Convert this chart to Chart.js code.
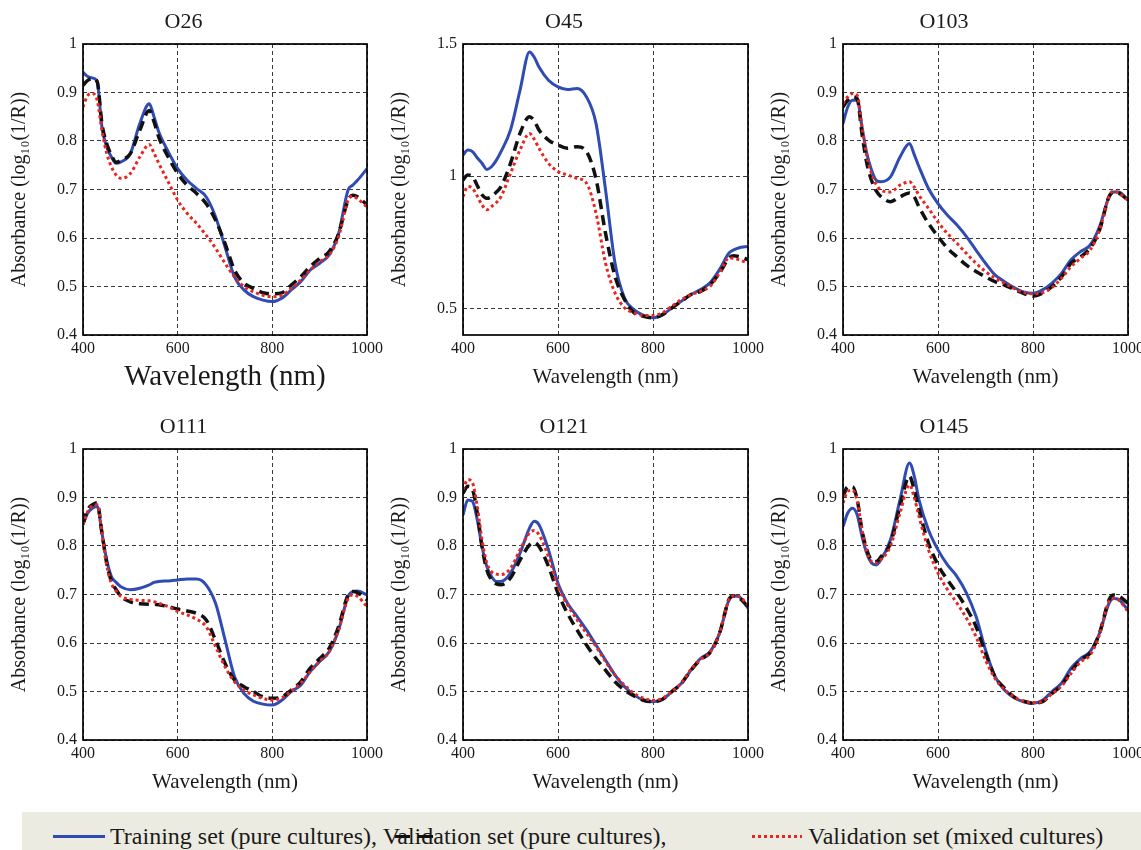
<!DOCTYPE html>
<html>
<head>
<meta charset="utf-8">
<script src="https://cdn.jsdelivr.net/npm/chart.js@4.4.0/dist/chart.umd.min.js"></script>
<style>
  body { margin: 0; background: #fff; width: 1141px; height: 850px; position: relative; overflow: hidden; font-family: 'Liberation Serif', serif; }
  canvas { position: absolute; }
  #legend { position: absolute; left: 22px; top: 812px; width: 1119px; height: 38px; background: #ecebe1; }
  .txt { position: absolute; top: 12px; font-size: 24px; line-height: 24px; color: #1a1a1a; white-space: nowrap; }
  .swatch { position: absolute; height: 3px; }
</style>
</head>
<body>
<canvas id="p0" width="400" height="400" style="left:0;top:0"></canvas>
<canvas id="p1" width="400" height="400" style="left:380px;top:0"></canvas>
<canvas id="p2" width="381" height="400" style="left:760px;top:0"></canvas>
<canvas id="p3" width="400" height="400" style="left:0;top:405px"></canvas>
<canvas id="p4" width="400" height="400" style="left:380px;top:405px"></canvas>
<canvas id="p5" width="381" height="400" style="left:760px;top:405px"></canvas>

<div id="legend">
  <div class="swatch" style="left:31px;top:23px;width:52px;background:#2f4bb4"></div>
  <span class="txt" style="left:88px">Training set (pure cultures), Validation set (pure cultures),</span>
  <div class="swatch" style="left:373px;top:23px;width:40px;background:repeating-linear-gradient(to right,#111 0 15px,transparent 15px 23px)"></div>
  <div class="swatch" style="left:730px;top:23px;width:50px;background:repeating-linear-gradient(to right,#e8261e 0 3px,transparent 3px 6px)"></div>
  <span class="txt" style="left:786px">Validation set (mixed cultures)</span>
</div>

<script>
// wavelength grid (nm)
const wavelengths = [400,410,420,430,440,450,460,470,480,500,520,540,550,560,580,600,620,640,660,680,700,720,740,760,780,800,820,840,860,880,900,920,940,960,970,980,1000];
const xTicks = [400, 600, 800, 1000];
const yTicks = [0.4, 0.5, 0.6, 0.7, 0.8, 0.9, 1];
const yTicksO45 = [0.5, 1, 1.5];
const panelNames = ['O26', 'O45', 'O103', 'O111', 'O121', 'O145'];
const seriesNames = ['Training set (pure cultures)', 'Validation set (pure cultures)', 'Validation set (mixed cultures)'];

const o26Train = [0.942,0.933,0.930,0.922,0.829,0.788,0.767,0.754,0.757,0.774,0.836,0.877,0.850,0.819,0.778,0.743,0.719,0.702,0.685,0.644,0.582,0.520,0.493,0.479,0.472,0.469,0.476,0.493,0.510,0.534,0.548,0.565,0.609,0.699,0.709,0.719,0.743];
const o26ValPure = [0.915,0.925,0.929,0.922,0.836,0.795,0.771,0.756,0.760,0.774,0.822,0.863,0.840,0.808,0.767,0.733,0.709,0.692,0.671,0.637,0.589,0.534,0.507,0.496,0.487,0.485,0.487,0.503,0.520,0.541,0.558,0.572,0.609,0.678,0.688,0.685,0.668];
const o26ValMixed = [0.870,0.894,0.898,0.884,0.822,0.775,0.747,0.730,0.723,0.733,0.767,0.793,0.775,0.754,0.716,0.678,0.651,0.630,0.606,0.579,0.548,0.520,0.500,0.489,0.482,0.479,0.482,0.496,0.513,0.534,0.551,0.565,0.603,0.678,0.686,0.681,0.664];

const o45Train = [1.080,1.099,1.093,1.070,1.049,1.026,1.036,1.060,1.093,1.175,1.325,1.470,1.450,1.413,1.363,1.338,1.328,1.332,1.300,1.200,0.950,0.672,0.540,0.496,0.474,0.465,0.477,0.503,0.528,0.553,0.572,0.597,0.647,0.710,0.722,0.729,0.735];
const o45ValPure = [0.986,1.005,0.999,0.965,0.930,0.917,0.923,0.940,0.961,1.049,1.162,1.225,1.210,1.175,1.137,1.118,1.106,1.112,1.093,0.990,0.785,0.622,0.534,0.484,0.471,0.465,0.477,0.503,0.528,0.553,0.565,0.590,0.634,0.691,0.700,0.697,0.685];
const o45ValMixed = [0.923,0.961,0.955,0.925,0.892,0.873,0.886,0.900,0.923,1.011,1.099,1.162,1.140,1.106,1.049,1.018,1.005,0.992,0.974,0.861,0.672,0.559,0.503,0.484,0.474,0.474,0.484,0.509,0.534,0.553,0.565,0.584,0.634,0.691,0.690,0.685,0.672];

const o103Train = [0.836,0.870,0.884,0.884,0.829,0.775,0.740,0.719,0.716,0.726,0.767,0.795,0.772,0.747,0.702,0.671,0.647,0.627,0.603,0.575,0.548,0.524,0.510,0.498,0.489,0.486,0.493,0.507,0.527,0.555,0.572,0.585,0.623,0.685,0.695,0.695,0.678];
const o103ValPure = [0.870,0.884,0.891,0.887,0.815,0.755,0.719,0.697,0.685,0.675,0.685,0.693,0.685,0.664,0.630,0.603,0.579,0.561,0.544,0.531,0.520,0.510,0.503,0.494,0.486,0.480,0.486,0.500,0.520,0.548,0.561,0.579,0.616,0.685,0.695,0.693,0.678];
const o103ValMixed = [0.877,0.891,0.898,0.894,0.829,0.770,0.733,0.710,0.699,0.695,0.709,0.716,0.705,0.688,0.661,0.633,0.609,0.589,0.568,0.548,0.531,0.517,0.507,0.496,0.488,0.485,0.487,0.498,0.517,0.541,0.558,0.575,0.616,0.685,0.697,0.693,0.678];

const o111Train = [0.844,0.868,0.878,0.882,0.827,0.772,0.737,0.725,0.716,0.710,0.713,0.720,0.725,0.727,0.728,0.730,0.732,0.732,0.720,0.682,0.607,0.531,0.496,0.480,0.474,0.472,0.482,0.500,0.513,0.541,0.562,0.582,0.627,0.696,0.706,0.707,0.699];
const o111ValPure = [0.847,0.875,0.885,0.889,0.827,0.765,0.727,0.710,0.696,0.685,0.681,0.680,0.680,0.679,0.675,0.670,0.666,0.661,0.648,0.606,0.558,0.524,0.510,0.500,0.489,0.486,0.489,0.503,0.520,0.548,0.568,0.589,0.634,0.699,0.706,0.704,0.689];
const o111ValMixed = [0.844,0.871,0.883,0.885,0.827,0.761,0.723,0.707,0.696,0.690,0.688,0.687,0.685,0.682,0.675,0.665,0.658,0.649,0.634,0.593,0.551,0.520,0.503,0.493,0.486,0.482,0.487,0.501,0.517,0.541,0.562,0.582,0.627,0.692,0.699,0.696,0.675];

const o121Train = [0.864,0.895,0.892,0.854,0.799,0.758,0.737,0.727,0.727,0.744,0.785,0.837,0.851,0.844,0.792,0.723,0.682,0.655,0.627,0.596,0.565,0.534,0.510,0.493,0.482,0.479,0.484,0.500,0.517,0.544,0.568,0.582,0.620,0.689,0.697,0.696,0.672];
const o121ValPure = [0.909,0.923,0.916,0.868,0.799,0.751,0.730,0.722,0.720,0.734,0.771,0.802,0.807,0.799,0.758,0.703,0.661,0.627,0.596,0.568,0.544,0.520,0.503,0.491,0.482,0.479,0.484,0.500,0.517,0.544,0.566,0.580,0.620,0.690,0.697,0.694,0.675];
const o121ValMixed = [0.916,0.937,0.930,0.882,0.813,0.765,0.747,0.742,0.741,0.754,0.792,0.827,0.832,0.823,0.778,0.716,0.679,0.648,0.620,0.593,0.562,0.534,0.513,0.496,0.486,0.482,0.486,0.500,0.518,0.546,0.566,0.580,0.620,0.690,0.697,0.696,0.679];

const o145Train = [0.840,0.868,0.878,0.864,0.820,0.785,0.765,0.761,0.772,0.813,0.895,0.971,0.944,0.895,0.833,0.792,0.761,0.737,0.703,0.655,0.586,0.531,0.503,0.487,0.479,0.476,0.482,0.500,0.517,0.548,0.568,0.582,0.620,0.682,0.692,0.690,0.668];
const o145ValPure = [0.902,0.922,0.922,0.895,0.833,0.792,0.771,0.768,0.778,0.806,0.882,0.944,0.915,0.875,0.806,0.761,0.730,0.703,0.672,0.634,0.579,0.531,0.507,0.489,0.480,0.476,0.479,0.496,0.513,0.541,0.565,0.579,0.620,0.689,0.699,0.697,0.682];
const o145ValMixed = [0.889,0.913,0.915,0.892,0.833,0.789,0.768,0.765,0.772,0.800,0.868,0.926,0.900,0.861,0.792,0.744,0.710,0.682,0.651,0.613,0.565,0.527,0.504,0.489,0.480,0.477,0.480,0.495,0.511,0.537,0.561,0.575,0.617,0.686,0.692,0.689,0.665];

const panelSeries = [
  [o26Train, o26ValPure, o26ValMixed],
  [o45Train, o45ValPure, o45ValMixed],
  [o103Train, o103ValPure, o103ValMixed],
  [o111Train, o111ValPure, o111ValMixed],
  [o121Train, o121ValPure, o121ValMixed],
  [o145Train, o145ValPure, o145ValMixed],
];

Chart.defaults.font.family = "'Liberation Serif', 'Times New Roman', serif";
Chart.defaults.color = '#1a1a1a';

const lineStyles = [
  { borderColor: '#2f4bb4', borderWidth: 3, borderDash: [], order: 3 },
  { borderColor: '#111111', borderWidth: 3.5, borderDash: [10, 6], order: 2 },
  { borderColor: '#e8261e', borderWidth: 3, borderDash: [3, 3], order: 1 },
];

// solid box round the plot area
const frame = {
  id: 'frame',
  afterDatasetsDraw(chart) {
    const { ctx, chartArea: a } = chart;
    ctx.save();
    ctx.strokeStyle = '#000';
    ctx.lineWidth = 1.7;
    ctx.strokeRect(a.left, a.top, a.right - a.left, a.bottom - a.top);
    ctx.restore();
  }
};

function makePanel(i) {
  const isO45 = panelNames[i] === 'O45';
  const ticksY = isO45 ? yTicksO45 : yTicks;
  const col = i % 3;
  const xTitleSize = i === 0 ? 29 : 21;
  // right edge of plot: 367 / 368 / 368 inside each canvas
  const padRight = col === 0 ? 33 : (col === 1 ? 32 : 13);

  const datasets = panelSeries[i].map((vals, k) => ({
    label: seriesNames[k],
    data: wavelengths.map((w, j) => ({ x: w, y: vals[j] })),
    borderColor: lineStyles[k].borderColor,
    borderWidth: lineStyles[k].borderWidth,
    borderDash: lineStyles[k].borderDash,
    order: lineStyles[k].order,
    pointRadius: 0,
    fill: false,
    cubicInterpolationMode: 'monotone',
  }));

  new Chart(document.getElementById('p' + i), {
    type: 'line',
    data: { datasets },
    plugins: [frame],
    options: {
      responsive: false,
      animation: false,
      layout: { padding: { left: 0, right: padRight, top: 0, bottom: 0 } },
      plugins: {
        legend: { display: false },
        tooltip: { enabled: false },
        title: {
          display: true,
          text: panelNames[i],
          font: { size: 22, weight: 'normal' },
          padding: { top: 9, bottom: 8.6 },
        },
      },
      scales: {
        x: {
          type: 'linear',
          min: 400,
          max: 1000,
          afterBuildTicks: s => { s.ticks = xTicks.map(v => ({ value: v })); },
          afterFit: s => { s.height = 65; s.paddingLeft = 0; s.paddingRight = 0; },
          ticks: { font: { size: 16 }, padding: 4, maxRotation: 0, callback: v => String(v) },
          grid: { color: '#222', lineWidth: 0.9, drawTicks: false },
          border: { display: false, dash: [4, 3] },
          title: {
            display: true,
            text: 'Wavelength (nm)',
            font: { size: xTitleSize },
            padding: { top: 0, bottom: i === 0 ? 5.6 : 10.4 },
          },
        },
        y: {
          min: 0.4,
          max: isO45 ? 1.5 : 1,
          afterBuildTicks: s => { s.ticks = ticksY.map(v => ({ value: v })); },
          afterFit: s => { s.width = 83; s.paddingTop = 0; s.paddingBottom = 0; },
          ticks: { font: { size: 16 }, padding: 6, callback: v => String(Number(v.toFixed(2))) },
          grid: { color: '#222', lineWidth: 0.9, drawTicks: false },
          border: { display: false, dash: [4, 3] },
          title: {
            display: true,
            text: 'Absorbance (log\u2081\u2080(1/R))',
            font: { size: 20 },
            padding: { top: 8, bottom: 0 },
          },
        },
      },
    },
  });
}

for (let i = 0; i < panelNames.length; i++) makePanel(i);
</script>
</body>
</html>
